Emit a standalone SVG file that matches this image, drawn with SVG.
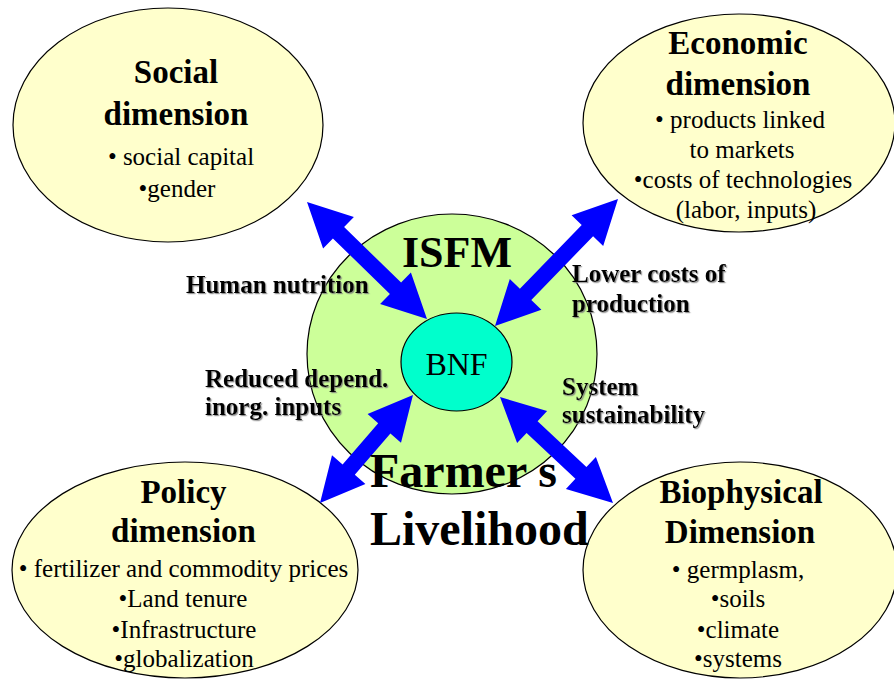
<svg xmlns="http://www.w3.org/2000/svg" width="894" height="681" viewBox="0 0 894 681">
  <defs>
    <style>
      .dim { fill: #FFFFCC; stroke: #000; stroke-width: 1.2; }
      .core { fill: #CCFF99; stroke: #000; stroke-width: 1.2; }
      .bnf { fill: #00FFCC; stroke: #000; stroke-width: 1.2; }
      .arrow { fill: #0000FF; stroke: none; }
      text { font-family: "Liberation Serif", "Times New Roman", serif; fill: #000; }
      .title { font-size: 33px; font-weight: bold; text-anchor: middle; }
      .item { font-size: 25px; text-anchor: middle; }
      .label { font-size: 25px; font-weight: bold; filter: url(#shade); }
      .big { font-weight: bold; }
    </style>
    <filter id="shade" x="-5%" y="-20%" width="110%" height="140%">
      <feDropShadow dx="1.2" dy="1.2" stdDeviation="0.2" flood-color="#7a7a7a" flood-opacity="0.8"/>
    </filter>
  </defs>

  <rect width="894" height="681" fill="#FFFFFF"/>

  <!-- central ISFM circle with BNF core -->
  <g id="isfm">
    <ellipse class="core" cx="452" cy="354" rx="145" ry="140"/>
    <text class="big" x="457" y="267" font-size="44" text-anchor="middle">ISFM</text>
  </g>
  <g id="bnf">
    <ellipse class="bnf" cx="456.5" cy="362" rx="55.5" ry="49"/>
    <text x="456.5" y="375" font-size="32" text-anchor="middle">BNF</text>
  </g>

  <!-- four dimensions -->
  <g id="social">
    <ellipse class="dim" cx="168" cy="125" rx="155" ry="117"/>
    <text class="title" x="176" y="83">Social</text>
    <text class="title" x="176" y="125">dimension</text>
    <text class="item" x="181" y="165">• social capital</text>
    <text class="item" x="177" y="197">•gender</text>
  </g>

  <g id="economic">
    <ellipse class="dim" cx="739" cy="123" rx="156" ry="109"/>
    <text class="title" x="738" y="54">Economic</text>
    <text class="title" x="738" y="95">dimension</text>
    <text class="item" x="740" y="128">• products linked</text>
    <text class="item" x="742" y="158">to markets</text>
    <text class="item" x="743" y="188">•costs of technologies</text>
    <text class="item" x="746" y="218">(labor, inputs)</text>
  </g>

  <g id="policy">
    <ellipse class="dim" cx="185" cy="570" rx="173" ry="108"/>
    <text class="title" x="183.5" y="503">Policy</text>
    <text class="title" x="183.5" y="542">dimension</text>
    <text class="item" x="183.5" y="577">• fertilizer and commodity prices</text>
    <text class="item" x="183" y="607">•Land tenure</text>
    <text class="item" x="184" y="638">•Infrastructure</text>
    <text class="item" x="184" y="667">•globalization</text>
  </g>

  <g id="biophysical">
    <ellipse class="dim" cx="740" cy="570" rx="157" ry="108"/>
    <text class="title" x="741" y="503">Biophysical</text>
    <text class="title" x="740" y="543">Dimension</text>
    <text class="item" x="738" y="578">• germplasm,</text>
    <text class="item" x="738" y="607">•soils</text>
    <text class="item" x="738" y="638">•climate</text>
    <text class="item" x="738" y="667">•systems</text>
  </g>

  <!-- double-headed links between BNF and each dimension -->
  <g id="connectors">
    <polygon class="arrow" points="307,202 323.1,248.5 332.9,238.4 389.9,294.0 380.1,304.1 427,319 410.9,272.5 401.1,282.6 344.1,227.0 353.9,216.9"/>
    <polygon class="arrow" points="618,199 571.6,215.3 581.7,225.0 519.9,288.8 509.8,279.1 495,326 541.4,309.7 531.3,300.0 593.1,236.2 603.2,245.9"/>
    <polygon class="arrow" points="413,395 367.6,414.0 378.2,423.2 342.6,464.4 332.0,455.2 320,503 365.4,484.0 354.8,474.8 390.4,433.6 401.0,442.8"/>
    <polygon class="arrow" points="500,397 517.1,443.1 526.6,432.9 575.4,478.7 565.9,488.9 613,503 595.9,456.9 586.4,467.1 537.6,421.3 547.1,411.1"/>
  </g>

  <!-- link labels -->
  <g id="labels">
    <text class="label" x="186" y="293">Human nutrition</text>
    <text class="label" x="205" y="387">Reduced depend.</text>
    <text class="label" x="205" y="415">inorg. inputs</text>
    <text class="label" x="572" y="282">Lower costs of</text>
    <text class="label" x="572" y="312">production</text>
    <text class="label" x="562" y="395">System</text>
    <text class="label" x="562" y="423">sustainability</text>
  </g>

  <g id="livelihood">
    <text class="big" x="370" y="487" font-size="48">Farmer s</text>
    <text class="big" x="370" y="545" font-size="48">Livelihood</text>
  </g>
</svg>
